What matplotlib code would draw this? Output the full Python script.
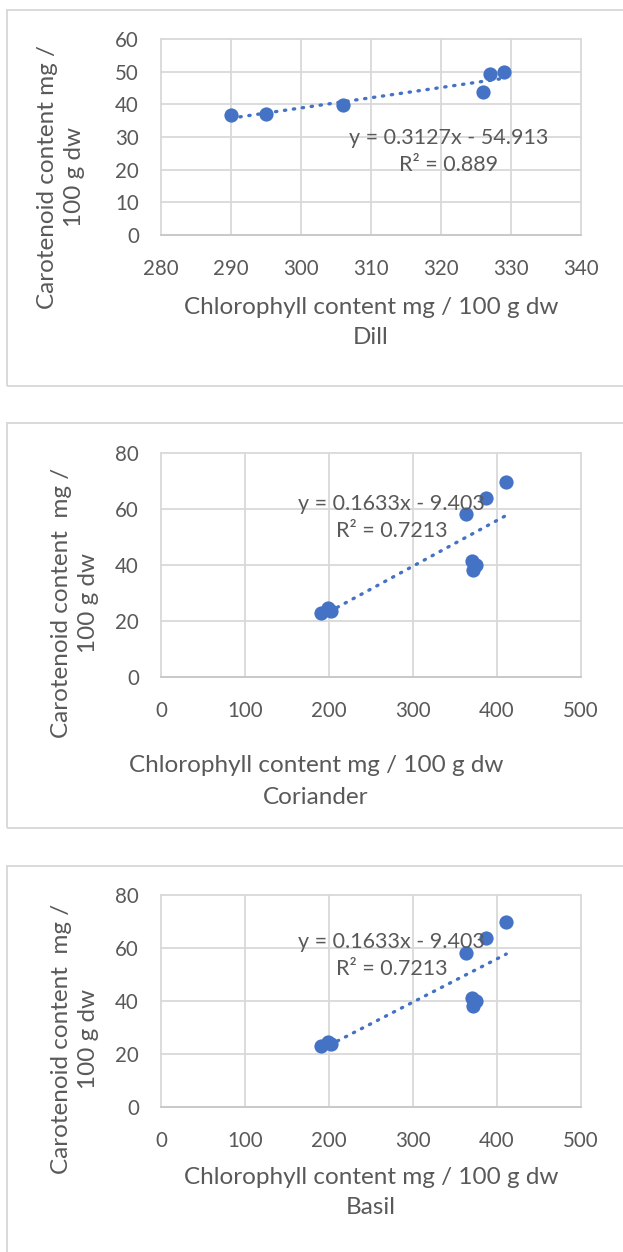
import matplotlib
matplotlib.use("Agg")
import matplotlib.pyplot as plt
from matplotlib.patches import Rectangle
import numpy as np

# ---- data -------------------------------------------------------------
dill_chl = [290, 295, 306, 326, 327, 329]
dill_car = [36.8, 37.1, 39.8, 43.9, 49.2, 49.8]
dill_fit = (0.3127, -54.913)
dill_r2 = "0.889"

cor_chl = [191, 199, 202, 363, 387, 411, 370, 375, 371]
cor_car = [22.9, 24.7, 23.6, 58.2, 63.9, 69.8, 41.3, 40.1, 38.3]
cor_fit = (0.1633, -9.403)
cor_r2 = "0.7213"

basil_chl = [191, 199, 202, 363, 387, 411, 370, 375, 371]
basil_car = [22.9, 24.7, 23.6, 58.2, 63.9, 69.8, 41.3, 40.1, 38.3]
basil_fit = (0.1633, -9.403)
basil_r2 = "0.7213"

x_ticks_dill = [280, 290, 300, 310, 320, 330, 340]
y_ticks_dill = [0, 10, 20, 30, 40, 50, 60]
x_ticks_wide = [0, 100, 200, 300, 400, 500]
y_ticks_wide = [0, 20, 40, 60, 80]

x_title = "Chlorophyll content mg / 100 g dw"

# ---- styling ----------------------------------------------------------
W, H = 623, 1252
TXT = "#595959"
GRID = "#d9d9d9"
BLUE = "#4472C4"
FS_TICK = 14.8
FS_LAB = 17.5
FS_EQ = 15.5
plt.rcParams["font.family"] = ["Lato", "DejaVu Sans"]

fig = plt.figure(figsize=(W / 100, H / 100), dpi=100)


def fx(px):
    return px / W


def fy(py):
    return 1 - py / H


def add_box(top, bottom):
    fig.patches.append(Rectangle((fx(7), fy(bottom)), fx(700), fy(top) - fy(bottom),
                                 transform=fig.transFigure, fill=False,
                                 edgecolor=GRID, linewidth=1.4))


def panel(top, bottom, chl, car, fit, r2, xticks, yticks, eq_xy,
          ylab, ylab_xy, xlab_y, name, name_y, xlab_x):
    left, right = 161, 581
    ax = fig.add_axes([fx(left), fy(bottom), fx(right - left), fy(top) - fy(bottom)])
    ax.set_xlim(xticks[0], xticks[-1])
    ax.set_ylim(yticks[0], yticks[-1])
    ax.set_xticks(xticks)
    ax.set_yticks(yticks)
    for s in ["top", "right", "left"]:
        ax.spines[s].set_visible(False)
    ax.spines["bottom"].set_color("#c8c8c8")
    ax.spines["bottom"].set_linewidth(1.3)
    ax.grid(True, color=GRID, linewidth=1.3)
    ax.set_axisbelow(True)
    ax.tick_params(length=0, labelsize=FS_TICK, labelcolor=TXT)
    ax.tick_params(axis="y", pad=16)
    ax.tick_params(axis="x", pad=17)
    for t in ax.get_xgridlines() + ax.get_ygridlines():
        t.set_clip_on(False)

    ax.scatter(chl, car, s=105, color=BLUE, zorder=3, linewidths=0)
    a, b = fit
    xs = np.array([min(chl), max(chl)])
    ax.plot(xs, a * xs + b, color=BLUE, linewidth=2.4,
            linestyle=(0, (0.4, 2.3)), dash_capstyle="round", zorder=4)
    sign = "-" if b < 0 else "+"
    ax.text(eq_xy[0], eq_xy[1],
            f"y = {a:.4f}x {sign} {abs(b):.3f}\nR² = {r2}",
            ha="center", va="center", multialignment="center",
            fontsize=FS_EQ, color=TXT, linespacing=1.45, zorder=5)

    fig.text(fx(ylab_xy[0]), fy(ylab_xy[1]), ylab, rotation=90,
             ha="center", va="center", multialignment="center",
             fontsize=FS_LAB, color=TXT, linespacing=1.35)
    fig.text(fx(xlab_x), fy(xlab_y), x_title, ha="center", va="center",
             fontsize=FS_LAB, color=TXT)
    fig.text(fx(xlab_x), fy(name_y), name, ha="center", va="center",
             fontsize=FS_LAB, color=TXT)
    return ax


add_box(10, 386)
add_box(423, 828)
add_box(866, 1300)

panel(39, 235, dill_chl, dill_car, dill_fit, dill_r2,
      x_ticks_dill, y_ticks_dill, (321.1, 25.6),
      "Carotenoid content mg /\n100 g dw", (61, 177),
      307, "Dill", 338, 371)

panel(453, 677, cor_chl, cor_car, cor_fit, cor_r2,
      x_ticks_wide, y_ticks_wide, (274.6, 57.1),
      "Carotenoid content  mg /\n100 g dw", (75, 603),
      765, "Coriander", 797, 316)

panel(895, 1107, basil_chl, basil_car, basil_fit, basil_r2,
      x_ticks_wide, y_ticks_wide, (274.6, 57.1),
      "Carotenoid content  mg /\n100 g dw", (75, 1039),
      1178, "Basil", 1208, 371)

fig.savefig("out.png", dpi=100, facecolor="white")
